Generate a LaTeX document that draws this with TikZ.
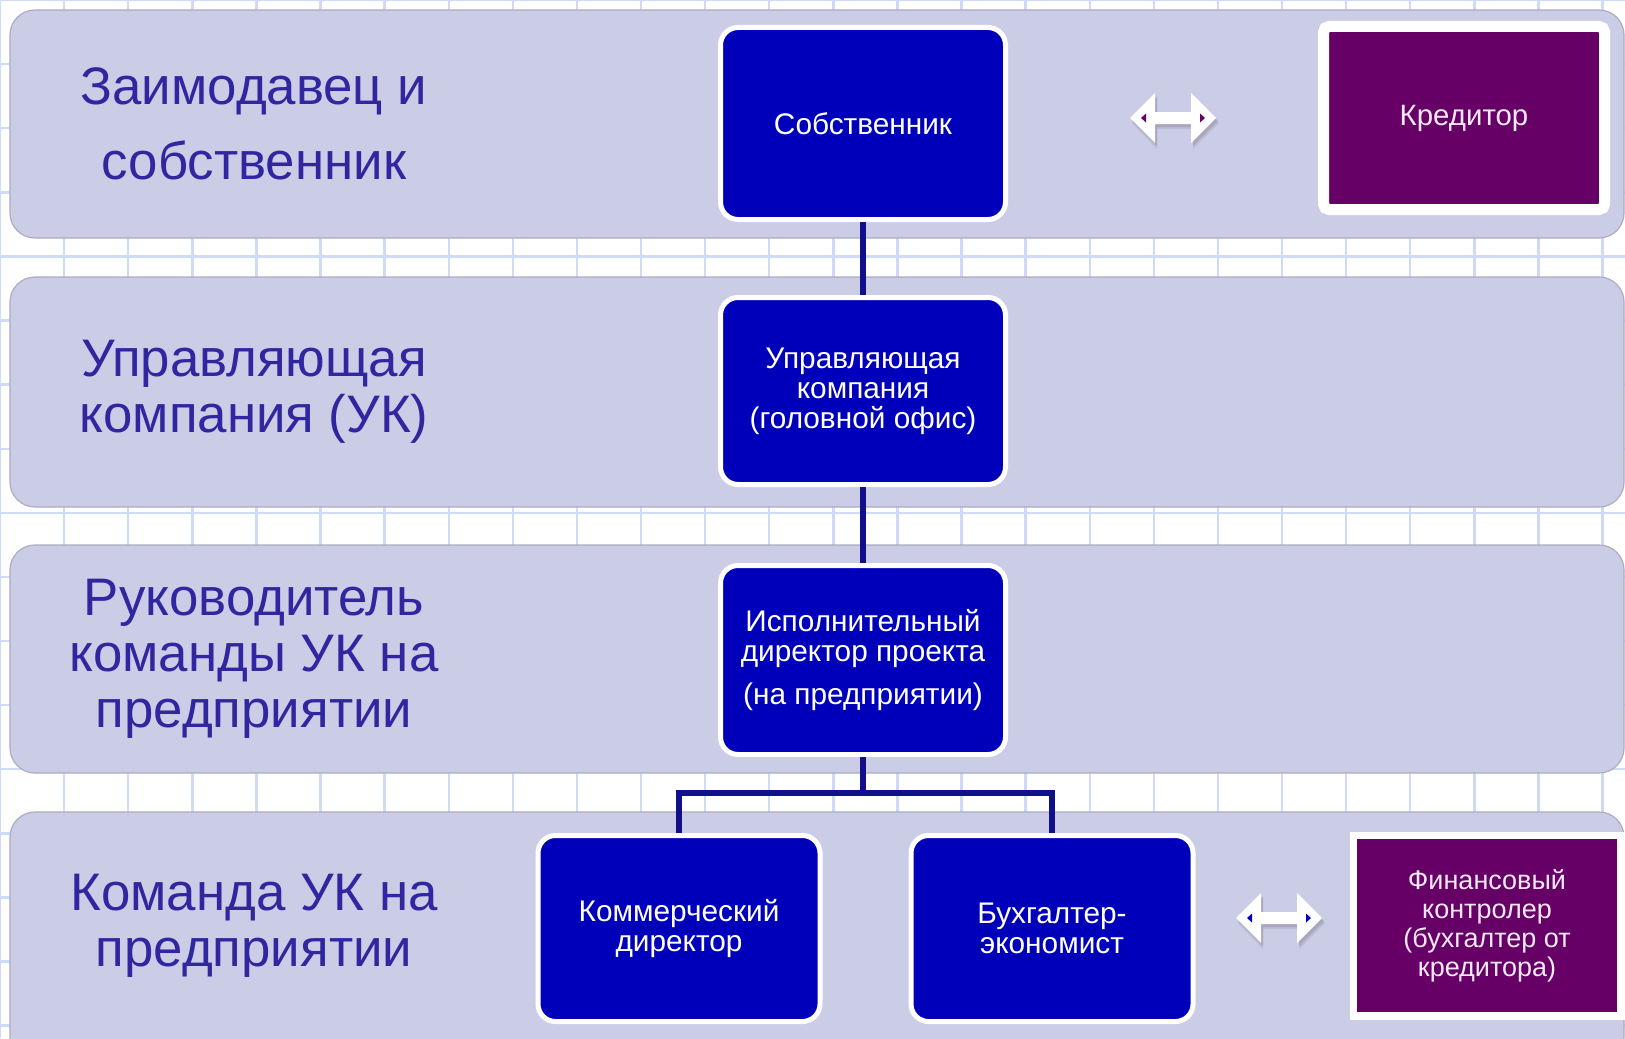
\documentclass[tikz,border=0pt]{standalone}
\usepackage{fontspec}
\setmainfont{Liberation Sans}
\usetikzlibrary{shadows}
\definecolor{bandfill}{RGB}{203,204,230}
\definecolor{bandedge}{RGB}{172,172,196}
\definecolor{gridc}{RGB}{205,218,250}
\definecolor{boxblue}{RGB}{0,0,187}
\definecolor{linec}{RGB}{16,16,140}
\definecolor{purp}{RGB}{102,0,102}
\definecolor{labelc}{RGB}{48,38,160}
\definecolor{ptext}{RGB}{246,232,246}
\definecolor{arrblue}{RGB}{0,0,200}
\tikzset{
  band/.style={fill=bandfill, draw=bandedge, line width=0.6pt, rounded corners=12.5pt},
  bluebox/.style={draw=white, fill=boxblue, line width=2.5pt, rounded corners=8.75pt,
    inner sep=0pt, text=white, align=center, font=\fontsize{14.9}{15}\selectfont},
  purpbox/.style={draw=white, fill=purp, inner sep=0pt, text=ptext, align=center,
    font=\fontsize{13.5}{14.5}\selectfont,
    drop shadow={shadow xshift=0.5pt, shadow yshift=-2pt, opacity=0.25}},
  lbl/.style={text=labelc, align=center, inner sep=0pt, font=\fontsize{26.4}{28}\selectfont},
  conn/.style={draw=linec, line width=3pt},
  pics/dblarrow/.style={code={
    \fill[black,opacity=0.08] (-41,5) -- (-16,-21) -- (-16,-1) -- (20,-1) -- (20,-21) -- (46,5) -- (20,31) -- (20,11) -- (-16,11) -- (-16,31) -- cycle;
    \fill[black,opacity=0.10] (-41,3) -- (-16,-22) -- (-16,-3) -- (20,-3) -- (20,-22) -- (45,3) -- (20,28) -- (20,9) -- (-16,9) -- (-16,28) -- cycle;
    \fill[white] (-43,0) -- (-18,-25) -- (-18,-6) -- (18,-6) -- (18,-25) -- (43,0) -- (18,25) -- (18,6) -- (-18,6) -- (-18,25) -- cycle;
    \fill[#1] (-32,0) -- (-27,-4.5) -- (-27,4.5) -- cycle;
    \fill[#1] (32,0) -- (27,-4.5) -- (27,4.5) -- cycle;
  }}
}
\begin{document}
\begin{tikzpicture}[x=0.5pt,y=-0.5pt]
\useasboundingbox (0,0) rectangle (1625,1038);
\clip (0,0) rectangle (1625,1038);
\fill[white] (0,0) rectangle (1625,1038);
% grid
\foreach \i in {0,...,25} \draw[gridc, line width=1.2pt] ({64.1*\i},0) -- ({64.1*\i},1038);
\foreach \j in {0,...,16} \draw[gridc, line width=1.2pt] (0,{64.1*\j}) -- (1625,{64.1*\j});
% bands
\draw[band] (10,10) rectangle (1624,238);
\draw[band] (10,277) rectangle (1624,507);
\draw[band] (10,545) rectangle (1624,773);
\draw[band] (10,812) rectangle (1624,1062);
% left labels
\node[lbl, font=\fontsize{26.4}{37.8}\selectfont] (l1) at (254,124) {Заимодавец и\\собственник};
\node[lbl] (l2) at (254,392) {Управляющая\\компания (УК)};
\node[lbl] (l3) at (254,659) {Руководитель\\команды УК на\\предприятии};
\node[lbl] (l4) at (254,926) {Команда УК на\\предприятии};
% blue boxes
\node[bluebox, minimum width=142.5pt, minimum height=96pt] (own) at (863,123.5) {Собственник};
\node[bluebox, minimum width=142.5pt, minimum height=93.5pt] (uk) at (863,391) {Управляющая\\компания\\(головной офис)};
\node[bluebox, minimum width=142.5pt, minimum height=94.5pt] (exec) at (863,660) {Исполнительный\\директор проекта\\[6.5pt](на предприятии)};
\node[bluebox, minimum width=141pt, minimum height=93pt] (comm) at (679,928.5) {Коммерческий\\директор};
\node[bluebox, minimum width=141pt, minimum height=93pt] (buh) at (1052,928.5) {Бухгалтер-\\экономист};
% purple boxes
\node[purpbox, line width=5.5pt, rounded corners=2.75pt, minimum width=140.5pt, minimum height=91.5pt, font=\fontsize{14.7}{15}\selectfont] (cred) at (1464,118) {Кредитор};
\node[purpbox, line width=3.75pt, minimum width=133.75pt, minimum height=90.25pt] (fin) at (1487,925.5) {Финансовый\\контролер\\(бухгалтер от\\кредитора)};
% connectors
\coordinate (br) at (863,793);
\draw[conn] (own.south) -- (uk.north);
\draw[conn] (uk.south) -- (exec.north);
\draw[conn] (exec.south) -- (br);
\draw[conn] (comm.north) |- (br) -| (buh.north);
% double arrows
\coordinate (a1) at (1173,118);
\coordinate (a2) at (1279,918);
\pic at (a1) {dblarrow=purp};
\pic at (a2) {dblarrow=arrblue};
\end{tikzpicture}
\end{document}
